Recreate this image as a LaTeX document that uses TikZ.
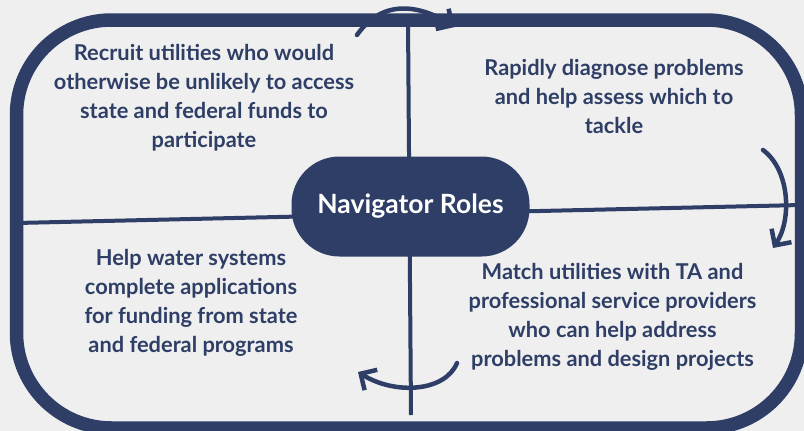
\documentclass[tikz,border=0pt]{standalone}
\usepackage{fontspec}
\setmainfont{Lato}
\usetikzlibrary{arrows.meta}
\definecolor{navy}{HTML}{2E3E66}
\definecolor{bg}{HTML}{EFEFEF}
\begin{document}
\begin{tikzpicture}[x=1pt,y=-1pt,
  frame/.style={draw=navy,line width=13.5pt,rounded corners=95pt},
  divider/.style={draw=navy,line width=4pt},
  hub/.style={fill=navy,rounded corners=48pt,minimum width=238pt,minimum height=100pt,text=white,inner sep=0pt,font=\bfseries\fontsize{26.5}{30}\selectfont},
  role/.style={text=navy,align=center,font=\bfseries\fontsize{21.8}{29}\selectfont,inner sep=0pt},
  cyc/.style={draw=navy,line width=4.5pt,line cap=round,-{Straight Barb[length=12pt,width=24pt]}}]
\useasboundingbox (0,0) rectangle (804,431);
\fill[bg] (0,0) rectangle (804,431);
\clip (0,0) rectangle (804,431);
\draw[frame] (16.5,20) rectangle (801.5,428);
\coordinate (hl) at (16.5,223);
\coordinate (hr) at (801.5,205);
\coordinate (vt) at (408,20);
\coordinate (vb) at (411,415);
\draw[divider] (hl) -- (hr);
\draw[divider] (vt) -- (vb);
\node[hub] (hub) at (410.5,206.5) {Navigator Roles};
\node[role] (tl) at (204,98) {Recruit utilities who would\\otherwise be unlikely to access\\state and federal funds to\\participate};
\node[role] (tr) at (614,96.5) {Rapidly diagnose problems\\and help assess which to\\tackle};
\node[role] (bl) at (191,303) {Help water systems\\complete applications\\for funding from state\\and federal programs};
\node[role] (br) at (612.5,317) {Match utilities with TA and\\professional service providers\\who can help address\\problems and design projects};
\coordinate (a1s) at (357,35);
\coordinate (a1e) at (455,27);
\coordinate (a2s) at (763,150);
\coordinate (a2e) at (773,248);
\coordinate (a3s) at (457,363);
\coordinate (a3e) at (358,372);
\draw[cyc] (a1s) .. controls (385,-5) and (425,8) .. (a1e);
\draw[cyc] (a2s) .. controls (790,170) and (792,220) .. (a2e);
\draw[cyc] (a3s) .. controls (445,392) and (395,395) .. (a3e);
\end{tikzpicture}
\end{document}
